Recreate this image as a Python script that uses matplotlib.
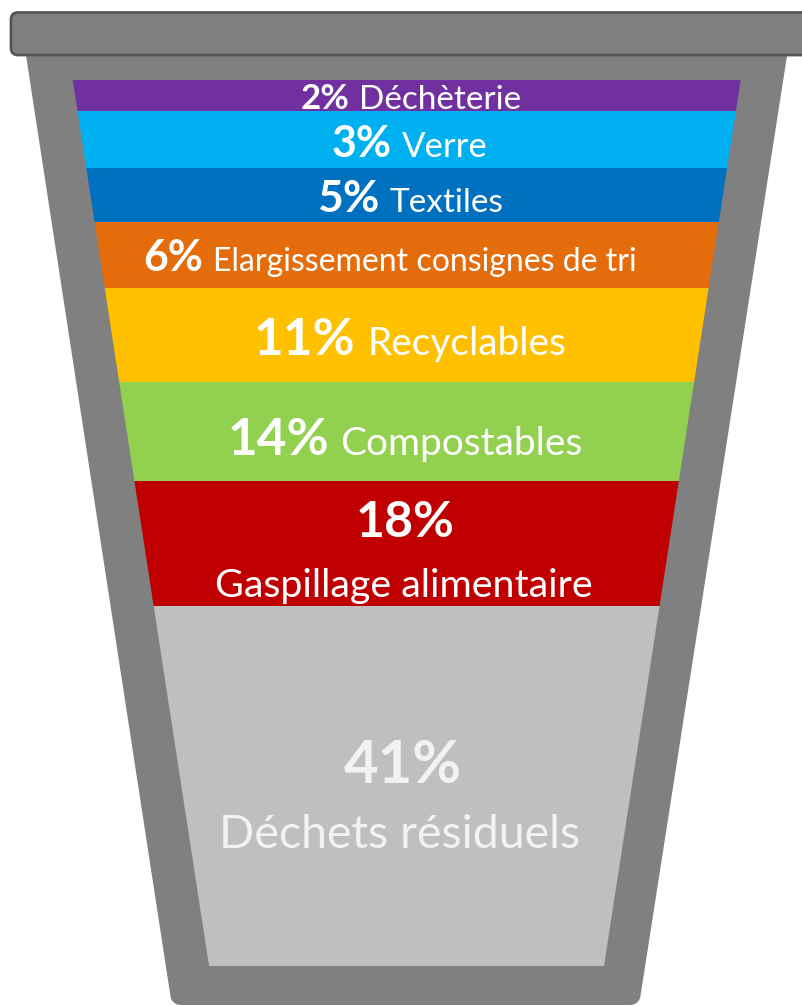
import matplotlib
matplotlib.use("Agg")
import matplotlib.pyplot as plt
from matplotlib.patches import Polygon, FancyBboxPatch

# ---- data ----
categories = ["Déchèterie", "Verre", "Textiles", "Elargissement consignes de tri",
              "Recyclables", "Compostables", "Gaspillage alimentaire", "Déchets résiduels"]
values = [2, 3, 5, 6, 11, 14, 18, 41]
colors = ["#7030A0", "#00B0F0", "#0070C0", "#E46C0A",
          "#FFC000", "#92D050", "#C00000", "#BFBFBF"]

# ---- layout (pixels) ----
W, H = 802, 1006
band_edges = [80, 111, 168, 222, 288, 382, 481, 606, 966]
two_line = [False] * 6 + [True, True]
pct_base = [109, 157, 212, 271, 355, 455, 537, 783]
name_base = [109, 157, 212, 271, 355, 455, 597, 848]
pct_size = [25, 31, 32, 31, 37, 37, 36, 43]
name_size = [24, 25, 24, 23, 28, 28, 28.4, 33.5]
pct_cx = [411, 410, 410, 390, 410, 405, 405, 403]
name_cx = [411, 410, 410, 390, 410, 405, 404, 400]
FONT = "Lato"

def inner_left(y):
    return 72.7 + 0.1539 * (y - 80)

def inner_right(y):
    return 740.7 - 0.1543 * (y - 80)

fig = plt.figure(figsize=(W / 100, H / 100), dpi=100)
ax = fig.add_axes([0, 0, 1, 1])
ax.set_xlim(0, W)
ax.set_ylim(H, 0)
ax.axis("off")

# bin body
body = Polygon([(35.3, 50), (777.8, 50), (630.5, 995), (180.4, 995)],
               closed=True, fc="#808080", ec="#808080", lw=14.4,
               joinstyle="round", zorder=1)
ax.add_patch(body)

# lid
lid = FancyBboxPatch((11, 12.5), 800, 42.5, boxstyle="round,pad=0,rounding_size=7",
                     fc="#808080", ec="#555555", lw=2.0, zorder=3)
ax.add_patch(lid)

# bands
for i, c in enumerate(colors):
    y0, y1 = band_edges[i], band_edges[i + 1]
    poly = Polygon([(inner_left(y0), y0), (inner_right(y0), y0),
                    (inner_right(y1), y1), (inner_left(y1), y1)],
                   closed=True, fc=c, ec="none", zorder=2)
    ax.add_patch(poly)

fig.canvas.draw()
renderer = fig.canvas.get_renderer()

for i, (cat, v) in enumerate(zip(categories, values)):
    tc = "#F2F2F2" if i == len(values) - 1 else "white"
    p = ax.text(0, pct_base[i], f"{v}%", fontsize=pct_size[i], fontweight="bold",
                family=FONT, color=tc, va="baseline", ha="left", zorder=5)
    n = ax.text(0, name_base[i], cat, fontsize=name_size[i], family=FONT,
                color=tc, va="baseline", ha="left", zorder=5)
    wp = p.get_window_extent(renderer).width
    wn = n.get_window_extent(renderer).width
    if two_line[i]:
        p.set_x(pct_cx[i] - wp / 2)
        n.set_x(name_cx[i] - wn / 2)
    else:
        gap = 0.3 * name_size[i] * 100 / 72
        start = pct_cx[i] - (wp + gap + wn) / 2
        p.set_x(start)
        n.set_x(start + wp + gap)

fig.savefig("out.png", dpi=100)
